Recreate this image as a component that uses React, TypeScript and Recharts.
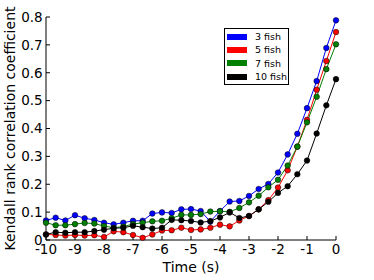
import {
  Legend,
  Line,
  LineChart,
  XAxis,
  YAxis,
} from "recharts";

const times = [
  -10, -9.667, -9.333, -9, -8.667, -8.333, -8, -7.667, -7.333, -7, -6.667,
  -6.333, -6, -5.667, -5.333, -5, -4.667, -4.333, -4, -3.667, -3.333, -3,
  -2.667, -2.333, -2, -1.667, -1.333, -1, -0.667, -0.333, 0,
];

const fish3 = [
  0.07, 0.08, 0.07, 0.089, 0.078, 0.072, 0.062, 0.056, 0.062, 0.069, 0.069,
  0.095, 0.099, 0.097, 0.11, 0.111, 0.104, 0.066, 0.104, 0.138, 0.14, 0.158,
  0.183, 0.201, 0.242, 0.307, 0.381, 0.473, 0.57, 0.689, 0.788,
];
const fish5 = [
  0.02, 0.018, 0.016, 0.018, 0.016, 0.017, 0.011, 0.031, 0.028, 0.018, 0.008,
  0.02, 0.034, 0.035, 0.044, 0.036, 0.038, 0.044, 0.055, 0.049, 0.07, 0.086,
  0.11, 0.143, 0.188, 0.25, 0.335, 0.431, 0.539, 0.642, 0.746,
];
const fish7 = [
  0.062, 0.053, 0.053, 0.057, 0.061, 0.059, 0.05, 0.044, 0.048, 0.057, 0.062,
  0.067, 0.069, 0.078, 0.09, 0.09, 0.093, 0.102, 0.103, 0.101, 0.115, 0.135,
  0.159, 0.189, 0.216, 0.267, 0.335, 0.422, 0.514, 0.613, 0.702,
];
const fish10 = [
  0.02, 0.028, 0.026, 0.028, 0.028, 0.032, 0.037, 0.042, 0.044, 0.051, 0.046,
  0.041, 0.044, 0.072, 0.071, 0.068, 0.063, 0.068, 0.081, 0.099, 0.079, 0.086,
  0.11, 0.137, 0.169, 0.193, 0.236, 0.285, 0.382, 0.483, 0.577,
];

const xTicks = [-10, -9, -8, -7, -6, -5, -4, -3, -2, -1, 0];
const yTicks = [0, 0.1, 0.2, 0.3, 0.4, 0.5, 0.6, 0.7, 0.8];

const seriesList = [
  { key: "f3", name: "3 fish", color: "#0000ff" },
  { key: "f5", name: "5 fish", color: "#ff0000" },
  { key: "f7", name: "7 fish", color: "#008000" },
  { key: "f10", name: "10 fish", color: "#000000" },
];

const data = times.map((t, i) => ({
  t,
  f3: fish3[i],
  f5: fish5[i],
  f7: fish7[i],
  f10: fish10[i],
}));

const FONT = "'DejaVu Sans', sans-serif";
const tickStyle = { fill: "#000", fontSize: 13.5, fontFamily: FONT };

const renderLegend = () => (
  <div
    style={{
      position: "relative",
      width: 65,
      height: 57,
      boxSizing: "border-box",
      border: "1px solid #000",
      background: "#fff",
      fontFamily: FONT,
      fontSize: 9.5,
    }}
  >
    {seriesList.map((s, i) => (
      <div
        key={s.key}
        style={{
          position: "absolute",
          left: 2,
          top: 1 + i * 13.4,
          height: 13,
          display: "flex",
          alignItems: "center",
          whiteSpace: "nowrap",
        }}
      >
        <span
          style={{
            display: "inline-block",
            width: 20,
            height: 6,
            background: s.color,
            marginRight: 8,
          }}
        />
        <span>{s.name}</span>
      </div>
    ))}
  </div>
);

export default function App() {
  return (
    <div style={{ position: "absolute", left: 0, top: 0 }}>
      <LineChart
        width={374}
        height={280}
        data={data}
        margin={{ top: 17, right: 38, bottom: 0, left: 0 }}
      >
        <XAxis
          dataKey="t"
          type="number"
          domain={[-10, 0]}
          ticks={xTicks}
          height={40}
          tick={tickStyle}
          tickSize={-4}
          tickMargin={8.2}
          stroke="#000"
          label={{
            value: "Time (s)",
            position: "insideBottom",
            offset: 8,
            style: { fill: "#000", fontSize: 14, fontFamily: FONT },
          }}
        />
        <XAxis
          xAxisId="top"
          dataKey="t"
          type="number"
          orientation="top"
          domain={[-10, 0]}
          ticks={xTicks}
          height={0}
          tickFormatter={() => ""}
          tickSize={-4}
          stroke="#000"
        />
        <YAxis
          domain={[0, 0.8]}
          ticks={yTicks}
          width={46}
          tick={tickStyle}
          tickSize={-4}
          tickMargin={7.3}
          stroke="#000"
          label={{
            content: () => (
              <text
                x={9.5}
                y={128.5}
                transform="rotate(-90 9.5 128.5)"
                textAnchor="middle"
                dominantBaseline="central"
                fontSize={14}
                fontFamily={FONT}
                fill="#000"
              >
                Kendall rank correlation coefficient
              </text>
            ),
          }}
        />
        <YAxis
          yAxisId="right"
          orientation="right"
          domain={[0, 0.8]}
          ticks={yTicks}
          width={0}
          tickFormatter={() => ""}
          tickSize={-4}
          stroke="#000"
        />
        <Legend
          layout="vertical"
          align="center"
          verticalAlign="middle"
          content={renderLegend}
          wrapperStyle={{ left: 224, top: 28, width: 65, height: 57 }}
        />
        {seriesList.map((s) => (
          <Line
            key={s.key}
            dataKey={s.key}
            name={s.name}
            type="linear"
            stroke={s.color}
            strokeWidth={1}
            dot={{ r: 2.8, fill: s.color, stroke: "#000", strokeWidth: 0.5 }}
            isAnimationActive={false}
          />
        ))}
      </LineChart>
    </div>
  );
}
